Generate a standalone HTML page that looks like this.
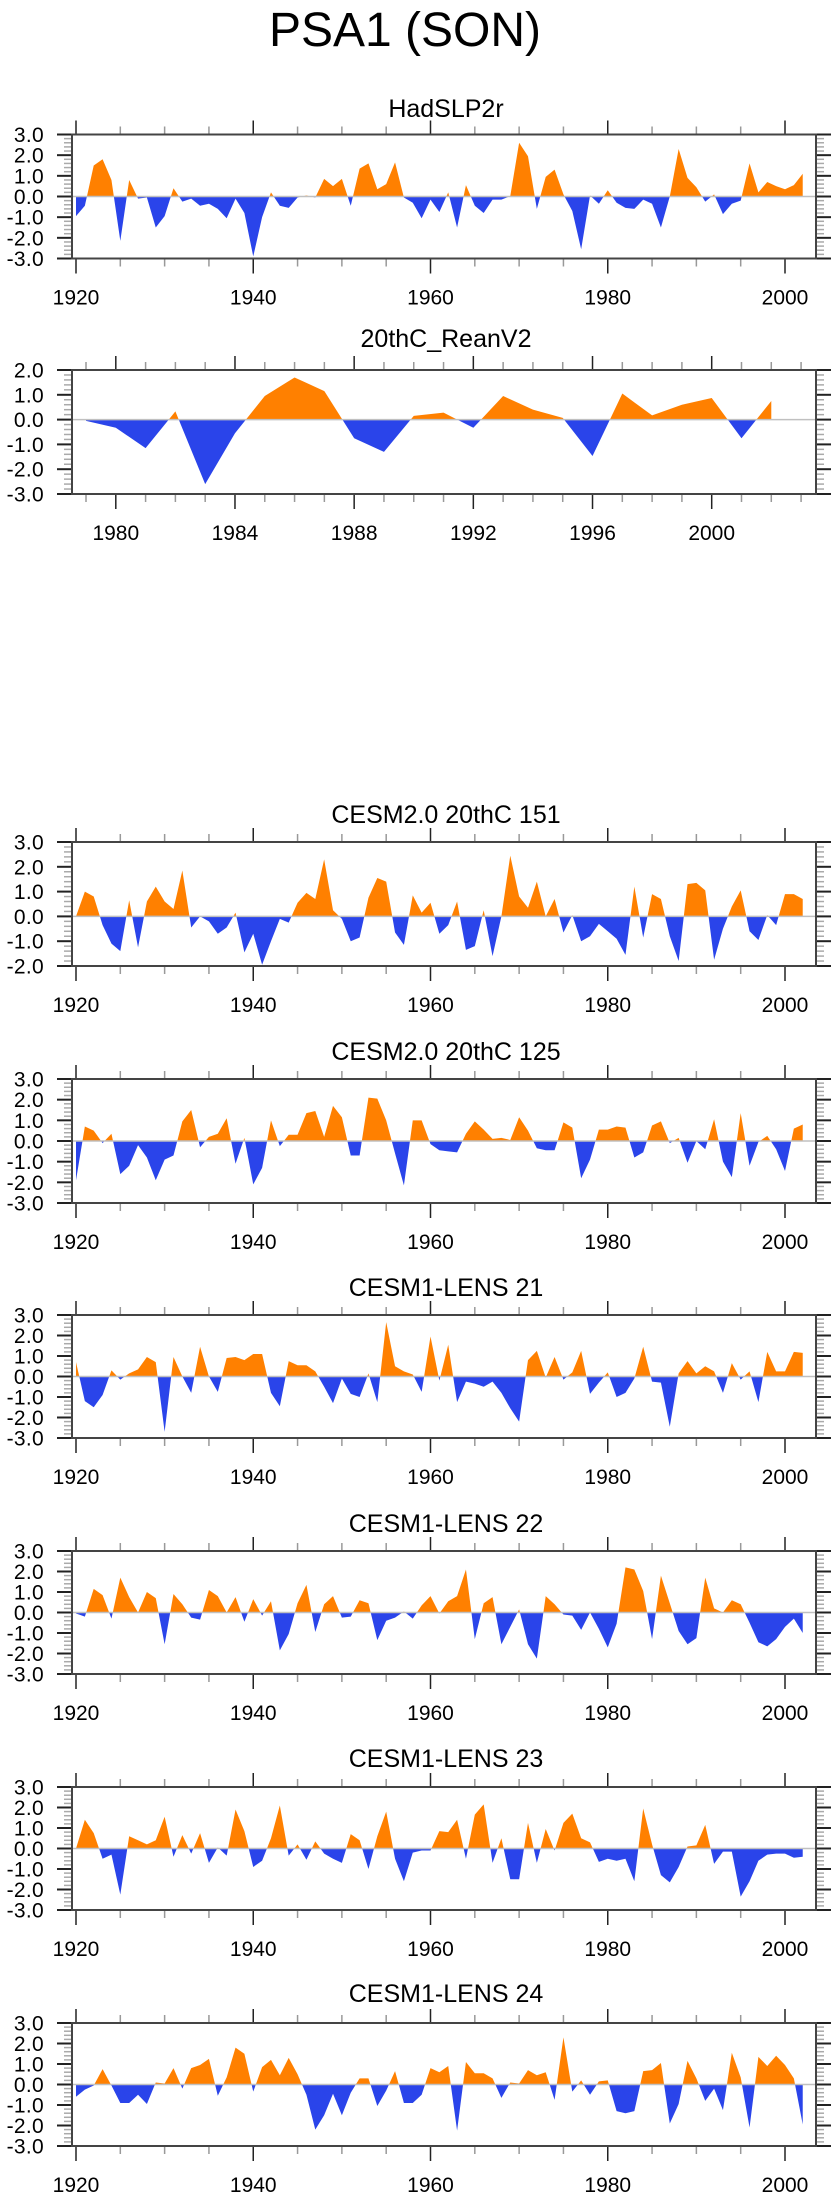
<!DOCTYPE html>
<html><head><meta charset="utf-8">
<style>
html,body{margin:0;padding:0;background:#fff;}
svg{display:block;font-family:"Liberation Sans",sans-serif;}
</style></head>
<body>
<svg id="fig" width="840" height="2200" viewBox="0 0 840 2200">
<text x="405" y="46" font-size="48" text-anchor="middle">PSA1 (SON)</text>
</svg>
<script>
// ---- data ----
const years1920 = [];
for (let y = 1920; y <= 2002; y++) years1920.push(y);
const years1979 = [];
for (let y = 1979; y <= 2002; y++) years1979.push(y);

const titles = ["HadSLP2r","20thC_ReanV2","CESM2.0 20thC 151","CESM2.0 20thC 125","CESM1-LENS 21","CESM1-LENS 22","CESM1-LENS 23","CESM1-LENS 24"];

const hadslp2r = [-0.95,-0.45,1.5,1.8,0.8,-2.15,0.8,-0.1,-0.05,-1.5,-0.95,0.4,-0.25,-0.1,-0.45,-0.35,-0.6,-1.05,-0.1,-0.8,-2.9,-1.0,0.2,-0.45,-0.55,-0.05,0.05,-0.05,0.85,0.5,0.85,-0.45,1.35,1.6,0.35,0.6,1.65,-0.05,-0.3,-1.05,-0.15,-0.75,0.2,-1.5,0.55,-0.45,-0.8,-0.15,-0.15,0.02,2.6,1.95,-0.6,0.95,1.3,0.1,-0.7,-2.55,0.05,-0.35,0.3,-0.3,-0.55,-0.6,-0.15,-0.35,-1.5,0.0,2.3,0.9,0.45,-0.25,0.1,-0.85,-0.35,-0.2,1.6,0.2,0.7,0.5,0.35,0.55,1.1];
const reanv2 = [-0.05,-0.33,-1.15,0.33,-2.6,-0.55,0.95,1.7,1.15,-0.75,-1.3,0.15,0.28,-0.33,0.95,0.4,0.07,-1.47,1.05,0.17,0.6,0.87,-0.75,0.75];
const cesm2_151 = [0.0,1.0,0.8,-0.35,-1.1,-1.4,0.65,-1.25,0.6,1.2,0.6,0.3,1.85,-0.45,0.0,-0.2,-0.7,-0.45,0.15,-1.45,-0.7,-1.95,-1.0,-0.1,-0.25,0.55,0.95,0.7,2.3,0.25,-0.1,-1.0,-0.85,0.75,1.55,1.4,-0.65,-1.15,0.85,0.15,0.55,-0.7,-0.35,0.6,-1.35,-1.2,0.25,-1.6,0.0,2.45,0.8,0.35,1.4,0.0,0.7,-0.65,0.05,-1.0,-0.8,-0.3,-0.6,-0.9,-1.55,1.2,-0.85,0.9,0.7,-0.8,-1.8,1.3,1.35,1.05,-1.75,-0.5,0.4,1.05,-0.6,-0.95,0.05,-0.35,0.9,0.9,0.7];
const cesm2_125 = [-1.9,0.7,0.5,-0.1,0.35,-1.6,-1.2,-0.2,-0.8,-1.9,-0.9,-0.7,0.95,1.5,-0.3,0.2,0.35,1.1,-1.1,0.15,-2.1,-1.3,1.0,-0.25,0.3,0.3,1.35,1.45,0.2,1.7,1.15,-0.7,-0.7,2.1,2.05,1.0,-0.6,-2.15,1.0,1.0,-0.15,-0.45,-0.5,-0.55,0.35,0.95,0.55,0.1,0.15,0.05,1.15,0.5,-0.35,-0.45,-0.45,0.9,0.65,-1.8,-0.9,0.55,0.55,0.7,0.65,-0.8,-0.55,0.75,0.95,-0.1,0.15,-1.05,0.0,-0.4,1.05,-1.0,-1.75,1.35,-1.2,-0.05,0.25,-0.4,-1.45,0.6,0.8];
const lens21 = [0.7,-1.2,-1.5,-0.9,0.3,-0.15,0.15,0.35,0.95,0.7,-2.7,0.95,0.0,-0.8,1.45,0.0,-0.75,0.9,0.95,0.8,1.1,1.1,-0.8,-1.45,0.75,0.55,0.55,0.25,-0.5,-1.3,-0.1,-0.85,-1.0,0.15,-1.25,2.65,0.5,0.25,0.1,-0.75,1.95,-0.2,1.55,-1.25,-0.25,-0.35,-0.5,-0.25,-0.8,-1.55,-2.2,0.8,1.25,-0.05,0.95,-0.15,0.2,1.25,-0.85,-0.3,0.2,-1.0,-0.8,-0.1,1.45,-0.25,-0.3,-2.45,0.15,0.75,0.15,0.5,0.25,-0.8,0.65,-0.15,0.25,-1.25,1.2,0.25,0.25,1.2,1.15];
const lens22 = [-0.05,-0.2,1.15,0.85,-0.3,1.7,0.75,0.0,1.0,0.7,-1.55,0.9,0.4,-0.25,-0.35,1.1,0.8,0.0,0.75,-0.45,0.65,-0.15,0.55,-1.85,-1.05,0.45,1.35,-0.95,0.4,0.8,-0.25,-0.2,0.6,0.45,-1.35,-0.4,-0.25,0.05,-0.3,0.35,0.8,-0.05,0.55,0.8,2.1,-1.3,0.45,0.75,-1.55,-0.7,0.15,-1.55,-2.25,0.8,0.4,-0.1,-0.15,-0.85,0.0,-0.8,-1.7,-0.55,2.2,2.1,1.05,-1.3,1.8,0.45,-0.9,-1.55,-1.25,1.7,0.2,0.0,0.6,0.4,-0.5,-1.45,-1.65,-1.3,-0.7,-0.3,-1.0];
const lens23 = [0.0,1.4,0.75,-0.5,-0.3,-2.25,0.6,0.4,0.2,0.4,1.55,-0.4,0.65,-0.25,0.75,-0.7,0.05,-0.35,1.9,0.85,-0.9,-0.6,0.5,2.1,-0.35,0.2,-0.55,0.35,-0.25,-0.5,-0.7,0.7,0.4,-1.0,0.6,1.8,-0.5,-1.6,-0.2,-0.1,-0.1,0.85,0.8,1.4,-0.5,1.65,2.15,-0.7,0.5,-1.5,-1.5,1.25,-0.7,0.95,-0.1,1.25,1.7,0.5,0.3,-0.65,-0.5,-0.6,-0.5,-1.6,1.95,0.2,-1.3,-1.65,-0.9,0.1,0.15,1.15,-0.75,-0.15,-0.15,-2.35,-1.6,-0.6,-0.3,-0.25,-0.25,-0.45,-0.4];
const lens24 = [-0.6,-0.25,-0.05,0.75,-0.05,-0.9,-0.9,-0.5,-0.95,0.1,0.05,0.8,-0.2,0.8,0.95,1.25,-0.55,0.35,1.8,1.5,-0.35,0.85,1.2,0.45,1.3,0.5,-0.5,-2.2,-1.5,-0.45,-1.5,-0.4,0.3,0.3,-1.05,-0.3,0.65,-0.9,-0.9,-0.5,0.8,0.6,0.9,-2.25,1.1,0.55,0.55,0.3,-0.65,0.1,0.05,0.7,0.45,0.6,-0.75,2.3,-0.35,0.2,-0.5,0.15,0.2,-1.3,-1.4,-1.3,0.65,0.7,1.05,-1.9,-0.95,1.15,0.3,-0.8,-0.2,-1.25,1.55,0.35,-2.1,1.35,0.9,1.4,0.95,0.3,-1.95];

const yTicks6 = [-3,-2,-1,0,1,2,3];
const yTicks5a = [-3,-2,-1,0,1,2];
const yTicks5b = [-2,-1,0,1,2,3];
const xMajorA = [1920,1940,1960,1980,2000];
const xMajorB = [1980,1984,1988,1992,1996,2000];

// ---- layout ----
const panels = [
 {t:0, top:134.5, bot:258.5, ymin:-3, ymax:3, yt:yTicks6, xs:years1920, v:hadslp2r, x0:1920, x1:2000, px0:76, px1:785, maj:xMajorA, minStep:5, minFrom:1920, minTo:2000, title:112},
 {t:1, top:370, bot:494, ymin:-3, ymax:2, yt:yTicks5a, xs:years1979, v:reanv2, x0:1980, x1:2000, px0:115.8, px1:711.7, maj:xMajorB, minStep:1, minFrom:1979, minTo:2003, title:342},
 {t:2, top:842, bot:966, ymin:-2, ymax:3, yt:yTicks5b, xs:years1920, v:cesm2_151, x0:1920, x1:2000, px0:76, px1:785, maj:xMajorA, minStep:5, minFrom:1920, minTo:2000, title:818},
 {t:3, top:1079, bot:1203, ymin:-3, ymax:3, yt:yTicks6, xs:years1920, v:cesm2_125, x0:1920, x1:2000, px0:76, px1:785, maj:xMajorA, minStep:5, minFrom:1920, minTo:2000, title:1055},
 {t:4, top:1315, bot:1438, ymin:-3, ymax:3, yt:yTicks6, xs:years1920, v:lens21, x0:1920, x1:2000, px0:76, px1:785, maj:xMajorA, minStep:5, minFrom:1920, minTo:2000, title:1291},
 {t:5, top:1551, bot:1674, ymin:-3, ymax:3, yt:yTicks6, xs:years1920, v:lens22, x0:1920, x1:2000, px0:76, px1:785, maj:xMajorA, minStep:5, minFrom:1920, minTo:2000, title:1527},
 {t:6, top:1787, bot:1910, ymin:-3, ymax:3, yt:yTicks6, xs:years1920, v:lens23, x0:1920, x1:2000, px0:76, px1:785, maj:xMajorA, minStep:5, minFrom:1920, minTo:2000, title:1762},
 {t:7, top:2023, bot:2146, ymin:-3, ymax:3, yt:yTicks6, xs:years1920, v:lens24, x0:1920, x1:2000, px0:76, px1:785, maj:xMajorA, minStep:5, minFrom:1920, minTo:2000, title:1997}
];
const BL = 72, BR = 816;
const NS = "http://www.w3.org/2000/svg";
const svg = document.getElementById('fig');
function mk(tag, attrs, parent) {
  const e = document.createElementNS(NS, tag);
  for (const k in attrs) e.setAttribute(k, attrs[k]);
  parent.appendChild(e);
  return e;
}
function slug(s){return s.toLowerCase().replace(/[^a-z0-9]+/g,'-').replace(/-$/,'');}

panels.forEach(p => {
  const g = mk('g', {}, svg);
  
  
  const xs = yr => p.px0 + (yr - p.x0) * (p.px1 - p.px0) / (p.x1 - p.x0);
  const ys = v => p.bot - (v - p.ymin) * (p.bot - p.top) / (p.ymax - p.ymin);
  const y0 = ys(0);

  const tt = mk('text', {x:446, y:p.title + 5, 'font-size':25, 'text-anchor':'middle'}, g);
  tt.textContent = titles[p.t];
  
  

  const pts = p.xs.map((yr,i)=>[xs(yr), p.v[i]]);
  function poly(sign) {
    let d = [];
    for (let i=0;i<pts.length;i++){
      const [x,v] = pts[i];
      if (i>0){
        const [xp,vp] = pts[i-1];
        if ((vp>0&&v<0)||(vp<0&&v>0)){
          const xc = xp + (x-xp)*(vp/(vp-v));
          d.push([xc,y0]);
        }
      }
      const vv = sign>0 ? Math.max(v,0) : Math.min(v,0);
      d.push([x, ys(vv)]);
    }
    const first = d[0][0], last = d[d.length-1][0];
    return 'M'+first+','+y0+' '+d.map(q=>'L'+q[0].toFixed(2)+','+q[1].toFixed(2)).join(' ')+' L'+last+','+y0+' Z';
  }
  const pos = mk('path', {d:poly(1), fill:'#ff8000'}, g);
  
  
  const neg = mk('path', {d:poly(-1), fill:'#2a44ea'}, g);
  
  
  const zl = mk('line', {x1:BL, x2:BR, y1:y0, y2:y0, stroke:'#c0c0c0', 'stroke-width':1.5}, g);
  
  

  for (let v = p.ymin; v <= p.ymax + 1e-9; v += 0.2) {
    const y = ys(v);
    const isMaj = Math.abs(v - Math.round(v)) < 1e-6;
    const len = isMaj ? 15 : 8;
    const col = isMaj ? '#222' : '#aaa';
    mk('line', {x1:BL-len, x2:BL, y1:y, y2:y, stroke:col, 'stroke-width':isMaj?2:1.5}, g);
    mk('line', {x1:BR, x2:BR+len, y1:y, y2:y, stroke:col, 'stroke-width':isMaj?2:1.5}, g);
  }
  p.yt.forEach(v => {
    const t = mk('text', {x:44, y:ys(v)+7.5, 'font-size':21, 'text-anchor':'end', 'letter-spacing':'0.3'}, g);
    t.textContent = v.toFixed(1);
    
    
  });
  for (let yr = p.minFrom; yr <= p.minTo; yr += p.minStep) {
    if (p.maj.indexOf(yr) >= 0) continue;
    const x = xs(yr);
    mk('line', {x1:x, x2:x, y1:p.top-8, y2:p.top, stroke:'#999', 'stroke-width':1.5}, g);
    mk('line', {x1:x, x2:x, y1:p.bot, y2:p.bot+8, stroke:'#999', 'stroke-width':1.5}, g);
  }
  p.maj.forEach(yr => {
    const x = xs(yr);
    mk('line', {x1:x, x2:x, y1:p.top-14, y2:p.top, stroke:'#222', 'stroke-width':1.5}, g);
    mk('line', {x1:x, x2:x, y1:p.bot, y2:p.bot+15, stroke:'#222', 'stroke-width':1.5}, g);
    const t = mk('text', {x:x, y:p.bot+46, 'font-size':21, 'text-anchor':'middle'}, g);
    t.textContent = String(yr);
    
    
  });
  const box = mk('rect', {x:BL, y:p.top, width:BR-BL, height:p.bot-p.top, fill:'none', stroke:'#444', 'stroke-width':2}, g);
  
  
});
</script>
</body></html>
